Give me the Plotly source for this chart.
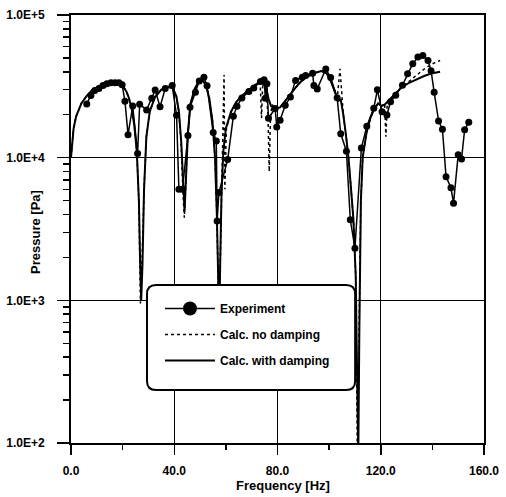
import plotly.graph_objects as go

# ---------------- data ----------------
exp_freq = [6.1, 7.7, 9.2, 10.8, 12.4, 13.9, 15.5, 17.1, 18.6, 19.8,
            20.9, 22.1, 23.9, 25.8, 26.6, 29.3, 31.3, 32.6, 34.5, 36.5,
            39.2, 40.9, 41.8, 43.2, 45.3, 46.1, 48.2, 49.7, 51.5, 52.7,
            55.1, 56.3, 56.6, 57.3, 60.7, 62.9, 64.3, 66.2, 68.9, 70.8,
            73.4, 74.8, 75.3, 75.9, 76.5, 79.1, 79.7, 81.0, 83.0, 85.0,
            87.0, 89.6, 90.9, 93.6, 94.1, 95.4, 98.7, 100.6, 103.1, 104.5,
            106.7, 108.2, 110.0, 112.5, 114.6, 117.3, 118.7, 120.5, 122.4, 123.8,
            125.8, 128.4, 130.4, 132.4, 134.4, 136.3, 138.3, 139.5, 140.7, 142.4,
            143.9, 145.3, 147.2, 148.2, 150.0, 151.3, 152.5, 154.1]
exp_pa = [23800, 27300, 29600, 30500, 32000, 33000, 33500, 33500, 33500, 32500,
          24900, 14500, 23000, 10700, 23700, 21600, 26100, 29800, 22700, 30500,
          32000, 19800, 6000, 6000, 14300, 22600, 28800, 34500, 36600, 31900,
          15000, 13100, 3600, 5700, 9700, 19500, 22900, 26200, 29100, 30800,
          34200, 35100, 26100, 33000, 18900, 22100, 16400, 18300, 23300, 26600,
          34800, 36600, 37700, 39000, 32000, 30300, 41800, 36400, 26300, 14700,
          11100, 3670, 2320, 11700, 16600, 22200, 29900, 21000, 19900, 24700,
          27400, 32200, 38800, 45600, 50700, 52000, 48000, 40700, 28700, 18100,
          15800, 7350, 6150, 4800, 10500, 9800, 15700, 17700]

nodamp_freq = [0, 0.5, 1, 2, 3, 4, 6, 8, 10, 12,
               14, 16, 18, 20, 21.5, 22.5, 23.5, 24.5, 25.5, 26.3,
               26.9, 27.5, 28.3, 29.2, 30.5, 32.5, 35, 37.5, 39.5, 40.8,
               41.8, 42.7, 43.4, 43.9, 44.5, 45.3, 46.3, 47.8, 49.3, 50.8,
               52.2, 53.6, 54.8, 55.8, 56.5, 57.0, 57.4, 57.8, 58.3, 58.9,
               59.3, 59.6, 60.2, 62, 64, 66, 68, 70, 72, 73.3,
               73.8, 74.3, 75.5, 76.3, 76.8, 77.3, 78, 79, 81, 83,
               85, 87, 89, 91, 93, 95, 97, 99, 100.5, 102,
               103.3, 104.2, 104.8, 105.5, 106.5, 107.5, 108.5, 109.4, 110.3, 111.0,
               111.6, 112.3, 113, 114.5, 116, 117.5, 119, 120.3, 121.5, 122,
               122.5, 125, 128, 131, 134, 137, 140, 143]
nodamp_pa = [10000, 13500, 16000, 19500, 22000, 24000, 27000, 29500, 31000, 32500,
             33500, 34000, 33500, 32000, 29000, 26000, 22000, 17000, 11000, 5000,
             950, 1800, 6000, 14000, 21000, 26500, 30000, 31500, 30500, 27000,
             21000, 12000, 5500, 3800, 7000, 15000, 24000, 30000, 34000, 35000,
             32500, 26000, 18000, 10000, 4000, 1500, 600, 1800, 5500, 12000,
             38000, 6000, 16000, 21000, 24500, 27000, 29000, 31000, 33000, 33200,
             19000, 33500, 31500, 20000, 8000, 20000, 23500, 22000, 22500, 25000,
             28000, 31000, 34000, 36500, 38000, 39500, 40500, 39000, 35000, 30000,
             28000, 42000, 30000, 20000, 14500, 10000, 6000, 3700, 1500, 60,
             600, 5000, 10000, 15000, 19000, 22000, 24000, 23000, 24000, 14000,
             24000, 27500, 31000, 34500, 38000, 42000, 45500, 48000]

damp_freq = [0, 0.5, 1, 2, 3, 4, 6, 8, 10, 12,
             14, 16, 18, 20, 21.5, 22.5, 23.5, 24.5, 25.5, 26.3,
             26.8, 27.2, 27.7, 28.3, 29.2, 30.5, 32.5, 35, 37.5, 39.5,
             40.8, 41.8, 42.7, 43.4, 44.0, 44.6, 45.3, 46.3, 47.8, 49.3,
             50.8, 52.2, 53.6, 54.8, 55.8, 56.5, 57.0, 57.4, 57.8, 58.3,
             59.0, 60.0, 62, 64, 66, 68, 70, 72, 74, 75.5,
             76.5, 77.5, 79, 81, 83, 85, 87, 89, 91, 93,
             95, 97, 99, 100.5, 102, 103.5, 104.5, 105.5, 106.5, 107.5,
             108.5, 109.4, 110.3, 110.9, 111.3, 111.7, 112.3, 113, 114.5, 116,
             117.5, 119, 120.3, 121.5, 123, 125, 128, 131, 134, 137,
             140, 143]
damp_pa = [10000, 13500, 16000, 19500, 22000, 24000, 27000, 29500, 31000, 32500,
           33500, 34000, 33500, 32000, 29000, 26000, 22000, 17000, 11000, 5000,
           1800, 1000, 1800, 6000, 14000, 21000, 26500, 30000, 31500, 30500,
           27000, 21000, 13000, 7000, 4200, 7500, 15000, 24000, 30000, 34000,
           35000, 32500, 26000, 18000, 10000, 4000, 1500, 700, 1800, 5500,
           11000, 16000, 21000, 24500, 27000, 29000, 31000, 33000, 33500, 31500,
           26000, 23000, 22000, 22500, 25000, 28000, 31000, 34000, 36500, 38000,
           39500, 40500, 39000, 35000, 30000, 25000, 25500, 20000, 14500, 10000,
           6000, 3700, 1500, 300, 80, 600, 5000, 10000, 15000, 19000,
           22000, 24000, 23000, 23500, 25000, 27500, 31000, 33500, 35500, 37500,
           39000, 40000]

x_ticks = [0, 40, 80, 120, 160]
x_ticktext = ["0.0", "40.0", "80.0", "120.0", "160.0"]
x_minor = [20, 60, 100, 140]
y_ticks = [100, 1000, 10000, 100000]
y_ticktext = ["1.0E+2", "1.0E+3", "1.0E+4", "1.0E+5"]
y_minor = [m * 10 ** e for e in (2, 3, 4) for m in range(2, 10)]

FONT = "Arial, Liberation Sans, Helvetica, sans-serif"

fig = go.Figure()

# legend proxy for the experiment (bigger marker in legend)
fig.add_trace(go.Scatter(
    x=[None], y=[None], mode="lines+markers", name="Experiment",
    line=dict(color="black", width=1.5),
    marker=dict(color="black", size=14),
    legendgroup="a"))
fig.add_trace(go.Scatter(
    x=nodamp_freq, y=nodamp_pa, mode="lines", name="Calc. no damping",
    line=dict(color="black", width=1.5, dash="dot"),
    legendgroup="b"))
fig.add_trace(go.Scatter(
    x=damp_freq, y=damp_pa, mode="lines", name="Calc. with damping",
    line=dict(color="black", width=2),
    legendgroup="c"))
fig.add_trace(go.Scatter(
    x=exp_freq, y=exp_pa, mode="lines+markers", name="Experiment",
    line=dict(color="black", width=1.5),
    marker=dict(color="black", size=7),
    showlegend=False))

# rounded legend box
x0, x1 = 0.184, 0.688
y0, y1 = 0.124, 0.369
rx, ry = 9 / 413, 9 / 428
path = (f"M {x0+rx},{y0} L {x1-rx},{y0} Q {x1},{y0} {x1},{y0+ry} "
        f"L {x1},{y1-ry} Q {x1},{y1} {x1-rx},{y1} L {x0+rx},{y1} "
        f"Q {x0},{y1} {x0},{y1-ry} L {x0},{y0+ry} Q {x0},{y0} {x0+rx},{y0} Z")
fig.add_shape(type="path", path=path, xref="paper", yref="paper",
              line=dict(color="black", width=2), fillcolor="white", layer="above")

axis_common = dict(
    showline=True, linecolor="black", linewidth=2, mirror=True,
    showgrid=True, gridcolor="black", gridwidth=1.3, zeroline=False,
    ticks="outside", tickcolor="black", tickwidth=1.5, automargin=False,
    tickfont=dict(family=FONT, size=12, color="black", weight="bold"),
)

title_font = dict(family=FONT, size=13, color="black", weight="bold")

fig.update_layout(
    width=506, height=497,
    margin=dict(l=71, r=22, t=15, b=54),
    paper_bgcolor="white", plot_bgcolor="white",
    font=dict(family=FONT, color="black"),
    showlegend=True,
    legend=dict(x=0.2155, y=0.348, xanchor="left", yanchor="top",
                bgcolor="rgba(0,0,0,0)", borderwidth=0,
                itemwidth=50, tracegroupgap=7,
                font=dict(family=FONT, size=12, color="black", weight="bold")),
    xaxis=dict(
        range=[0, 160], tickvals=x_ticks, ticktext=x_ticktext, ticklen=10,
        ticklabelstandoff=6,
        minor=dict(tickvals=x_minor, ticks="outside", ticklen=5,
                   tickwidth=1.5, tickcolor="black", showgrid=False),
        **axis_common),
    yaxis=dict(
        type="log", range=[2, 5], tickvals=y_ticks, ticktext=y_ticktext,
        ticklen=12, ticklabelstandoff=10,
        minor=dict(tickvals=y_minor, ticks="outside", ticklen=6,
                   tickwidth=1.5, tickcolor="black", showgrid=False),
        **axis_common),
    annotations=[
        dict(text="Frequency [Hz]", xref="paper", yref="paper",
             x=0.513, y=-0.100, xanchor="center", yanchor="middle",
             showarrow=False, font=title_font),
        dict(text="Pressure [Pa]", xref="paper", yref="paper",
             x=-0.085, y=0.493, xanchor="center", yanchor="middle",
             textangle=-90, showarrow=False, font=title_font),
    ],
)

fig.write_html("out.html",
               config={"displayModeBar": False, "staticPlot": True},
               post_script="document.body.style.margin='0px';document.body.style.overflow='hidden';")
